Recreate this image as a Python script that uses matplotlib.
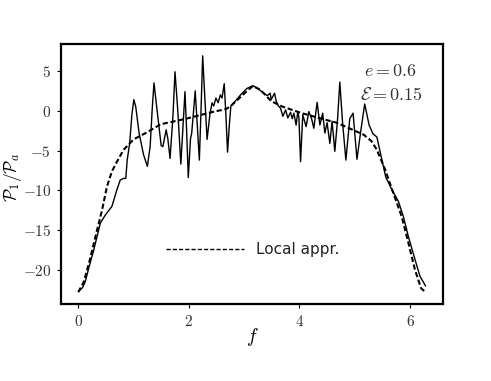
import matplotlib
matplotlib.use('Agg')
import matplotlib.pyplot as plt
from matplotlib.ticker import FuncFormatter

plt.rcParams['mathtext.fontset'] = 'cm'

# full numerical result (solid)
f_num = [0.02, 0.08, 0.13, 0.20, 0.28, 0.34, 0.40, 0.49, 0.61, 0.70, 0.76, 0.82, 0.86,
         0.885, 0.93, 0.97, 1.005, 1.04, 1.10, 1.18, 1.25, 1.30, 1.34, 1.37, 1.41, 1.46,
         1.50, 1.53, 1.59, 1.62, 1.66, 1.71, 1.75, 1.80, 1.855, 1.89, 1.93, 1.96, 1.99,
         2.03, 2.05, 2.08, 2.115, 2.15, 2.19, 2.22, 2.25, 2.29, 2.33, 2.38, 2.42, 2.45,
         2.49, 2.53, 2.57, 2.60, 2.64, 2.67, 2.70, 2.73, 2.76, 2.85, 2.95, 3.05, 3.16,
         3.25, 3.35, 3.42, 3.47, 3.49, 3.55, 3.58, 3.62, 3.66, 3.70, 3.75, 3.79, 3.84,
         3.87, 3.90, 3.94, 3.97, 3.99, 4.02, 4.06, 4.12, 4.17, 4.22, 4.26, 4.32, 4.37,
         4.42, 4.46, 4.50, 4.55, 4.59, 4.64, 4.69, 4.73, 4.78, 4.84, 4.91, 4.97, 5.04,
         5.11, 5.18, 5.26, 5.33, 5.40, 5.47, 5.56, 5.67, 5.79, 5.88, 5.97, 6.09, 6.18, 6.28]
p_num = [-22.6, -22.2, -21.4, -19.5, -17.5, -15.8, -14.1, -13.1, -12.0, -9.9, -8.7, -8.5, -8.5,
         -6.2, -4.1, -0.5, 1.4, 0.5, -2.8, -5.5, -7.0, -4.5, 0.5, 3.5, 1.0, -2.0,
         -4.4, -4.5, -2.4, -3.5, -6.0, -1.0, 4.9, 0.0, -6.7, -2.5, 2.4, -2.5, -8.4,
         -3.5, -2.9, -0.5, 2.5, -1.5, -6.2, 0.0, 6.9, 1.5, -3.6, -0.5, 1.0, 0.6,
         1.6, 1.0, 2.0, 1.6, 3.4, -0.5, -5.2, -2.0, 0.6, 1.3, 2.1, 2.8, 3.15,
         2.8, 2.2, 1.9, 2.2, 1.4, 2.2, 1.2, 0.6, 0.3, -0.7, 0.1, -0.9, -0.2,
         -1.0, -0.3, -1.8, -0.1, -0.8, -6.4, -0.5, -2.0, -0.1, -1.0, -2.2, 1.05, -1.8,
         -0.3, -2.8, -1.5, -4.1, -1.3, -5.1, -1.0, 3.6, -1.5, -6.2, -1.0, -0.3, -6.1,
         -2.5, 0.85, -1.8, -2.9, -3.3, -5.5, -8.3, -9.9, -11.4, -13.3, -15.8, -18.7, -20.8, -22.0]

# local approximation (dashed)
f_loc = [0.0, 0.1, 0.2, 0.34, 0.43, 0.52, 0.61, 0.70, 0.82, 1.0, 1.22, 1.49, 1.95, 2.46,
         2.67, 2.76, 2.9, 3.07, 3.16, 3.3, 3.49, 3.7, 4.04, 4.4, 4.67, 4.9, 5.16, 5.3,
         5.4, 5.55, 5.70, 5.85, 5.97, 6.09, 6.2, 6.28]
p_loc = [-22.8, -21.5, -19.0, -15.0, -12.5, -9.5, -7.6, -6.4, -4.9, -3.6, -2.8, -1.7, -1.0, -0.1,
         0.2, 0.6, 1.5, 2.6, 3.1, 2.6, 1.2, 0.5, -0.3, -1.0, -1.5, -2.2, -3.0, -3.8,
         -4.9, -7.4, -10.4, -13.3, -16.6, -20.0, -22.3, -22.8]

fig = plt.figure(figsize=(4.91, 3.81), dpi=100)
ax = fig.add_axes([0.124, 0.202, 0.778, 0.6825])

ax.plot(f_num, p_num, color='black', lw=1.0)
ax.plot(f_loc, p_loc, color='black', lw=1.5, ls=(0, (2.5, 1.3)), label='Local appr.')

ax.set_xticks([0, 2, 4, 6])
ax.set_yticks([-20, -15, -10, -5, 0, 5])
fmt = FuncFormatter(lambda v, p: '$%d$' % v)
ax.xaxis.set_major_formatter(fmt)
ax.yaxis.set_major_formatter(fmt)
ax.tick_params(labelsize=11, direction='out', length=3, width=0.8, colors='black', pad=4)
ax.tick_params(labelcolor='#333333')
for s in ax.spines.values():
    s.set_linewidth(1.6)

ax.set_xlabel('$f$', fontsize=14, va='center')
ax.set_ylabel(r'$\mathcal{P}_1/\mathcal{P}_a$', fontsize=12.5, va='center')
ax.xaxis.set_label_coords(0.5, -0.127)
ax.yaxis.set_label_coords(-0.126, 0.487)

ax.text(5.64, 5.0, '$e=0.6$', fontsize=13, ha='center', va='center', color='#333333')
ax.text(5.67, 2.0, r'$\mathcal{E}=0.15$', fontsize=13, ha='center', va='center', color='#333333')

leg = ax.legend(loc='center left', bbox_to_anchor=(0.275, 0.208), frameon=False,
                fontsize=11, handlelength=5.1, handletextpad=0.8, borderpad=0, borderaxespad=0)
for t in leg.get_texts():
    t.set_color('#222222')
hl = leg.get_lines()[0]
hl.set_linewidth(1.0)
hl.set_dashes((3.0, 1.5))

plt.savefig('out.png', dpi=100)
